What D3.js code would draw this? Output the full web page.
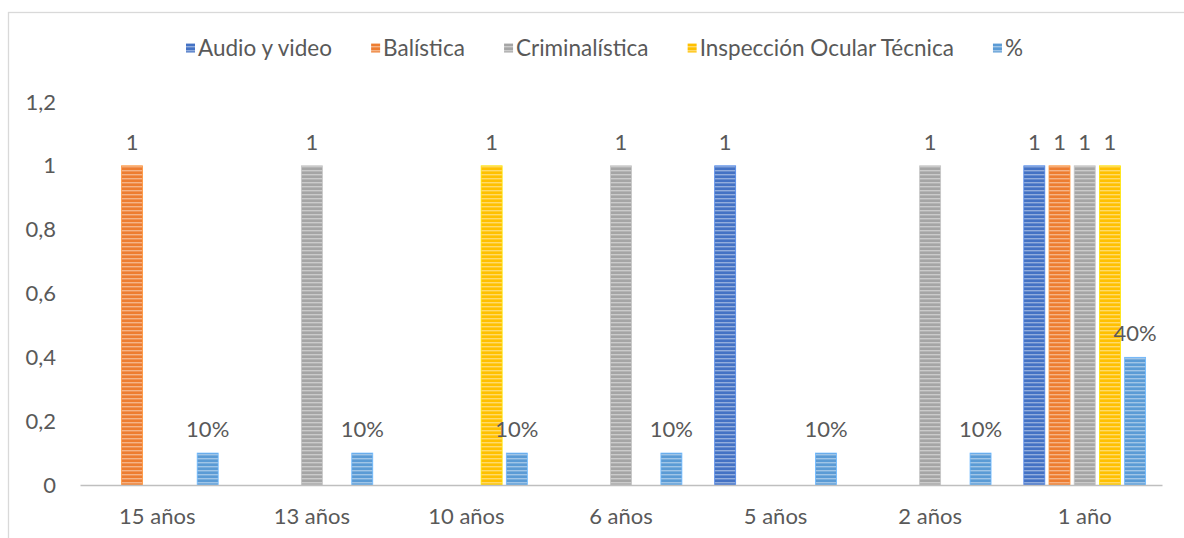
<!DOCTYPE html>
<html><head><meta charset="utf-8">
<script src="https://cdn.jsdelivr.net/npm/d3@7"></script>
<style>html,body{margin:0;padding:0;background:#fff;}svg{display:block;}</style>
</head><body>
<svg id="chart" width="1184" height="538"></svg>
<script>
const categories = ["15 años","13 años","10 años","6 años","5 años","2 años","1 año"];
const seriesNames = ["Audio y video","Balística","Criminalística","Inspección Ocular Técnica","%"];
const audioVideo   = [0,0,0,0,1,0,1];
const balistica    = [1,0,0,0,0,0,1];
const criminalist  = [0,1,0,1,0,1,1];
const inspeccion   = [0,0,1,0,0,0,1];
const porcentaje   = [0.1,0.1,0.1,0.1,0.1,0.1,0.4];
const yTicks = [0,0.2,0.4,0.6,0.8,1,1.2];
const colors = ["#4472C4","#ED7D31","#A5A5A5","#FFC000","#5B9BD5"];

(function(){
const seriesValues = [audioVideo,balistica,criminalist,inspeccion,porcentaje];
const FONT = "Lato, 'Open Sans', sans-serif";
const FS = 22;
const LFS = 22.5;
const TXT = "#595959";

const svg = d3.select("#chart");
const pLeft = 80, pRight = 1162, pTop = 102, pBottom = 485;

svg.append("rect").attr("x",8.5).attr("y",12.5).attr("width",1200).attr("height",600)
  .attr("fill","none").attr("stroke","#D9D9D9").attr("stroke-width",1.3);

const defs = svg.append("defs");
colors.forEach((c,i)=>{
  const p = defs.append("pattern").attr("id","pat"+i).attr("patternUnits","userSpaceOnUse")
    .attr("width",8).attr("height",4);
  p.append("rect").attr("width",8).attr("height",4).attr("fill",c);
  p.append("rect").attr("y",2).attr("width",8).attr("height",1.4).attr("fill","#fff").attr("opacity",0.42);
});

const x0 = d3.scaleBand().domain(categories).range([pLeft,pRight]).padding(0);
const bw = x0.bandwidth();
const outer = bw*0.106;
const x1 = d3.scaleBand().domain(d3.range(5)).range([outer,bw-outer]).paddingInner(0.167).paddingOuter(0);
const y = d3.scaleLinear().domain([0,1.2]).range([pBottom,pTop]);

const yAxis = d3.axisLeft(y).tickValues(yTicks).tickSize(0).tickPadding(0)
  .tickFormat(d=>d3.format("~g")(d).replace(".",","));
const yg = svg.append("g").attr("transform",`translate(56,0)`).call(yAxis);
yg.select(".domain").remove();
yg.selectAll("text").attr("font-family",FONT).attr("font-size",FS).attr("fill",TXT);

seriesValues.forEach((vals,si)=>{
  const g = svg.append("g");
  vals.forEach((v,ci)=>{
    if(!v) return;
    const xx = x0(categories[ci]) + x1(si);
    g.append("rect").attr("x",xx).attr("y",y(v)).attr("width",x1.bandwidth()).attr("height",y(0)-y(v))
      .attr("fill",`url(#pat${si})`)
      .attr("stroke",d3.color(colors[si]).brighter(0.5)).attr("stroke-width",0.8);
    g.append("text").attr("x",xx+x1.bandwidth()/2).attr("y",y(v)-16)
      .attr("text-anchor","middle").attr("font-family",FONT).attr("font-size",FS).attr("fill",TXT)
      .text(si===4 ? d3.format(".0%")(v) : d3.format("~g")(v));
  });
});

const xAxis = d3.axisBottom(x0).tickSize(0).tickPadding(23);
const xg = svg.append("g").attr("transform",`translate(0,${pBottom})`).call(xAxis);
xg.select(".domain").attr("stroke","#BFBFBF").attr("stroke-width",1.6);
xg.selectAll("text").attr("font-family",FONT).attr("font-size",FS).attr("fill",TXT);

const lg = svg.append("g");
const its = [];
let sumW = 0;
seriesNames.forEach((n,i)=>{
  const it = lg.append("g");
  it.append("rect").attr("x",0).attr("y",-4.5).attr("width",9).attr("height",9).attr("fill",`url(#pat${i})`);
  const t = it.append("text").attr("x",12).attr("y",0).attr("dy","0.35em")
    .attr("font-family",FONT).attr("font-size",LFS).attr("fill",TXT).text(n);
  const w = 12 + t.node().getComputedTextLength();
  its.push([it,w]); sumW += w;
});
const lStart = 186, lEnd = 1023;
const sp = (lEnd - lStart - sumW)/(its.length-1);
let cx = lStart;
its.forEach(([it,w])=>{ it.attr("transform",`translate(${cx},48)`); cx += w + sp; });
})();
</script>
</body></html>
